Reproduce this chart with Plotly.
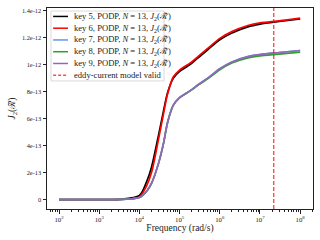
import plotly.graph_objects as go

# ---- data (values in units of 1e-12) ----
freq = [1e2, 1e3, 3.16e3, 1e4, 1.5e4, 2e4, 3e4, 4e4, 5e4, 7e4, 1e5, 1.5e5, 2e5,
        3e5, 5e5, 1e6, 2e6, 5e6, 1e7, 3e7, 1e8]
key5 = [0, 0, 0.002, 0.03, 0.13, 0.24, 0.48, 0.66, 0.79, 0.90, 0.95, 0.985, 1.01,
        1.055, 1.11, 1.185, 1.235, 1.28, 1.30, 1.32, 1.34]
key6 = [0, 0, 0.001, 0.02, 0.10, 0.20, 0.45, 0.64, 0.78, 0.91, 0.96, 0.995, 1.02,
        1.065, 1.12, 1.195, 1.245, 1.29, 1.31, 1.325, 1.345]
key7 = [0, 0, 0.001, 0.015, 0.06, 0.12, 0.27, 0.42, 0.57, 0.70, 0.755, 0.79, 0.815,
        0.855, 0.90, 0.97, 1.02, 1.06, 1.075, 1.09, 1.105]
key8 = [0, 0, 0.001, 0.015, 0.06, 0.12, 0.27, 0.42, 0.57, 0.70, 0.755, 0.79, 0.813,
        0.852, 0.895, 0.962, 1.012, 1.05, 1.065, 1.078, 1.093]
key9 = [0, 0, 0.001, 0.015, 0.06, 0.12, 0.27, 0.42, 0.57, 0.70, 0.755, 0.79, 0.815,
        0.855, 0.90, 0.97, 1.02, 1.06, 1.075, 1.09, 1.105]
unit = 1e-12
eddy_valid_freq = 2.2e7

series_names = ["key 5", "key 6", "key 7", "key 8", "key 9"]
series_vals = [key5, key6, key7, key8, key9]
series_colors = ["#000000", "#ff0000", "#6495ed", "#2ca02c", "#9467bd"]
label_tail = ", PODP, <i>N</i> = 13, <i>J</i><sub>2</sub>(ℛ̃)"
valid_label = "eddy-current model valid"

x_ticks = [1e2, 1e3, 1e4, 1e5, 1e6, 1e7, 1e8]
x_ticktext = ["10<sup>2</sup>", "10<sup>3</sup>", "10<sup>4</sup>", "10<sup>5</sup>",
              "10<sup>6</sup>", "10<sup>7</sup>", "10<sup>8</sup>"]
x_minor = [m * 10 ** k for k in range(1, 9) for m in range(2, 10)]
y_ticks = [0, 2e-13, 4e-13, 6e-13, 8e-13, 1e-12, 1.2e-12, 1.4e-12]
y_ticktext = ["0", "2e-13", "4e-13", "6e-13", "8e-13", "1e-12", "1.2e-12", "1.4e-12"]
y_range = [-0.07e-12, 1.42e-12]

FONT = "Liberation Serif"

fig = go.Figure()
for name, vals, col in zip(series_names, series_vals, series_colors):
    fig.add_trace(go.Scatter(
        x=freq, y=[v * unit for v in vals], mode="lines", name=name + label_tail,
        line=dict(color=col, width=1.7, shape="spline", smoothing=0.8),
        showlegend=False))

fig.add_trace(go.Scatter(
    x=[eddy_valid_freq, eddy_valid_freq], y=y_range, mode="lines",
    line=dict(color="rgba(255,0,0,0.7)", width=1.4, dash="4px,2px"),
    name=valid_label, showlegend=False))

# manual legend (compact, like matplotlib)
shapes = []
annotations = []
lx0, lx1, ltx = 0.023, 0.079, 0.094
ly_top, ly_step = 0.958, 0.0585
shapes.append(dict(type="rect", xref="paper", yref="paper", x0=0.015, x1=0.44,
                   y0=0.637, y1=0.985, line=dict(color="#d0d0d0", width=0.8),
                   fillcolor="rgba(255,255,255,0.85)", layer="above"))
legend_items = [(n + label_tail, c, "solid") for n, c in zip(series_names, series_colors)]
legend_items.append((valid_label, "rgba(255,0,0,0.7)", "3px,2px"))
for i, (txt, col, dash) in enumerate(legend_items):
    yy = ly_top - i * ly_step
    shapes.append(dict(type="line", xref="paper", yref="paper", x0=lx0, x1=lx1,
                       y0=yy, y1=yy, line=dict(color=col, width=1.5, dash=dash),
                       layer="above"))
    annotations.append(dict(xref="paper", yref="paper", x=ltx, y=yy, text=txt,
                            showarrow=False, xanchor="left", yanchor="middle",
                            font=dict(family=FONT, size=8.6, color="#222")))

fig.update_layout(
    width=320, height=240,
    margin=dict(l=47, r=7, t=8, b=31, autoexpand=False),
    plot_bgcolor="white", paper_bgcolor="white",
    font=dict(family=FONT, size=6.4, color="#222"),
    shapes=shapes, annotations=annotations,
    xaxis=dict(type="log", range=[1.70, 8.32], tickvals=x_ticks, ticktext=x_ticktext,
               ticks="outside", ticklen=3.5, tickwidth=0.8, tickcolor="#222",
               showline=True, linecolor="#222", linewidth=1, mirror=True,
               showgrid=False, zeroline=False, automargin=False,
               tickfont=dict(size=6.8),
               minor=dict(tickmode="array", tickvals=x_minor, ticks="outside",
                          ticklen=2, tickwidth=0.6, tickcolor="#222", showgrid=False),
               title=dict(text="Frequency (rad/s)", font=dict(size=9.5), standoff=1)),
    yaxis=dict(range=y_range, tickvals=y_ticks, ticktext=y_ticktext,
               ticks="outside", ticklen=3.5, tickwidth=0.8, tickcolor="#222",
               showline=True, linecolor="#222", linewidth=1, mirror=True,
               showgrid=False, zeroline=False, automargin=False,
               title=dict(text="<i>J</i><sub>2</sub>(ℛ̃)", font=dict(size=9.5), standoff=4)),
)

fig.write_html("out.html", config={"displayModeBar": False},
               post_script="document.body.style.margin='0';")
